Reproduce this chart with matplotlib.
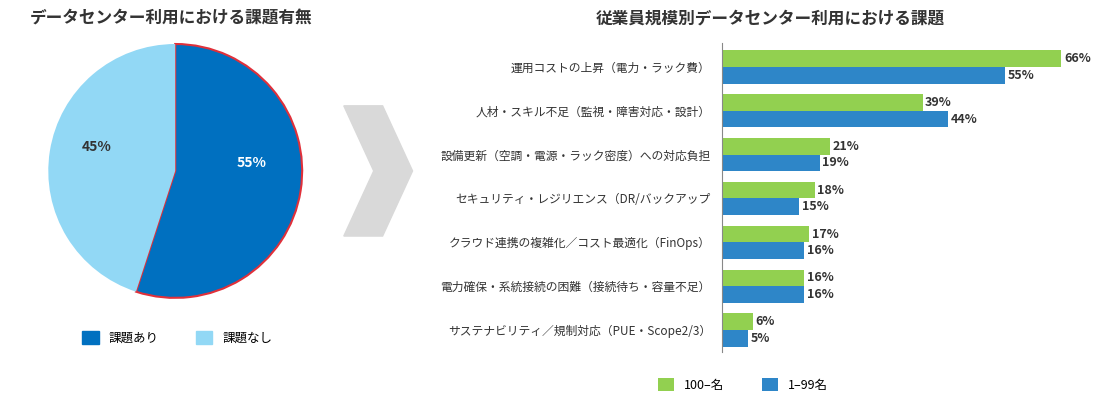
import matplotlib
matplotlib.use("Agg")
import matplotlib.pyplot as plt
from matplotlib.patches import Polygon, Patch

plt.rcParams['font.family'] = ['Noto Sans CJK JP', 'DejaVu Sans']

# pie data
pie_labels = ["課題あり", "課題なし"]
pie_values = [55, 45]
pie_colors = ["#0070C0", "#92D8F5"]

# bar data
categories = [
    "運用コストの上昇（電力・ラック費）",
    "人材・スキル不足（監視・障害対応・設計）",
    "設備更新（空調・電源・ラック密度）への対応負担",
    "セキュリティ・レジリエンス（DR/バックアップ",
    "クラウド連携の複雑化／コスト最適化（FinOps）",
    "電力確保・系統接続の困難（接続待ち・容量不足）",
    "サステナビリティ／規制対応（PUE・Scope2/3）",
]
large = [66, 39, 21, 18, 17, 16, 6]
small = [55, 44, 19, 15, 16, 16, 5]
series_names = ["100–名", "1–99名"]
bar_colors = ["#92D050", "#2E86C8"]

fig = plt.figure(figsize=(11.09, 4.07), dpi=100)

# ---- pie ----
ax1 = fig.add_axes([0.042, 0.265, 0.232, 0.63])
wedges, _ = ax1.pie(pie_values, colors=pie_colors, startangle=90,
                    counterclock=False, radius=1.0)
wedges[0].set_edgecolor("#E0303A")
wedges[0].set_linewidth(1.5)
ax1.set_xlim(-1.01, 1.01)
ax1.set_ylim(-1.01, 1.01)
ax1.text(0.60, 0.06, "55%", color="white", fontsize=10, fontweight="bold",
         ha="center", va="center")
ax1.text(-0.62, 0.19, "45%", color="#333333", fontsize=10, fontweight="bold",
         ha="center", va="center")
ax1.set_aspect("equal")
fig.text(0.027, 0.955, "データセンター利用における課題有無", fontsize=12,
         fontweight="bold", ha="left", va="center", color="#333333")
handles = [Patch(color=c, label=l) for c, l in zip(pie_colors, pie_labels)]
fig.legend(handles=handles, loc="center", bbox_to_anchor=(0.16, 0.17), ncol=2,
           frameon=False, fontsize=9, handlelength=1.3, handleheight=1.3,
           columnspacing=3)

# ---- arrow ----
fig.patches.append(Polygon([(0.31, 0.74), (0.345, 0.74), (0.372, 0.58),
                            (0.345, 0.42), (0.31, 0.42), (0.337, 0.58)],
                           closed=True, transform=fig.transFigure,
                           color="#D9D9D9"))

# ---- bars ----
ax2 = fig.add_axes([0.651, 0.135, 0.32, 0.76])
n = len(categories)
h = 0.38
ys = list(range(n))
ax2.barh([y - h / 2 for y in ys], large, height=h, color=bar_colors[0],
         label=series_names[0])
ax2.barh([y + h / 2 for y in ys], small, height=h, color=bar_colors[1],
         label=series_names[1])
for y, a, b in zip(ys, large, small):
    ax2.text(a + 0.5, y - h / 2, f"{a}%", va="center", fontsize=9,
             fontweight="bold", color="#333333")
    ax2.text(b + 0.5, y + h / 2, f"{b}%", va="center", fontsize=9,
             fontweight="bold", color="#333333")
ax2.set_yticks(ys)
ax2.set_yticklabels(categories, fontsize=8.5, color="#333333")
ax2.set_ylim(n - 0.5, -0.55)
ax2.set_xlim(0, 69)
ax2.set_xticks([])
for s in ["top", "right", "bottom"]:
    ax2.spines[s].set_visible(False)
ax2.spines["left"].set_color("#888888")
ax2.tick_params(axis="y", length=0, pad=8)
fig.text(0.695, 0.955, "従業員規模別データセンター利用における課題", fontsize=12,
         fontweight="bold", ha="center", va="center", color="#333333")
fig.legend(*ax2.get_legend_handles_labels(), loc="center",
           bbox_to_anchor=(0.67, 0.055), ncol=2, frameon=False, fontsize=9,
           handlelength=1.3, handleheight=1.3, columnspacing=3)

fig.savefig("out.png", dpi=100)
